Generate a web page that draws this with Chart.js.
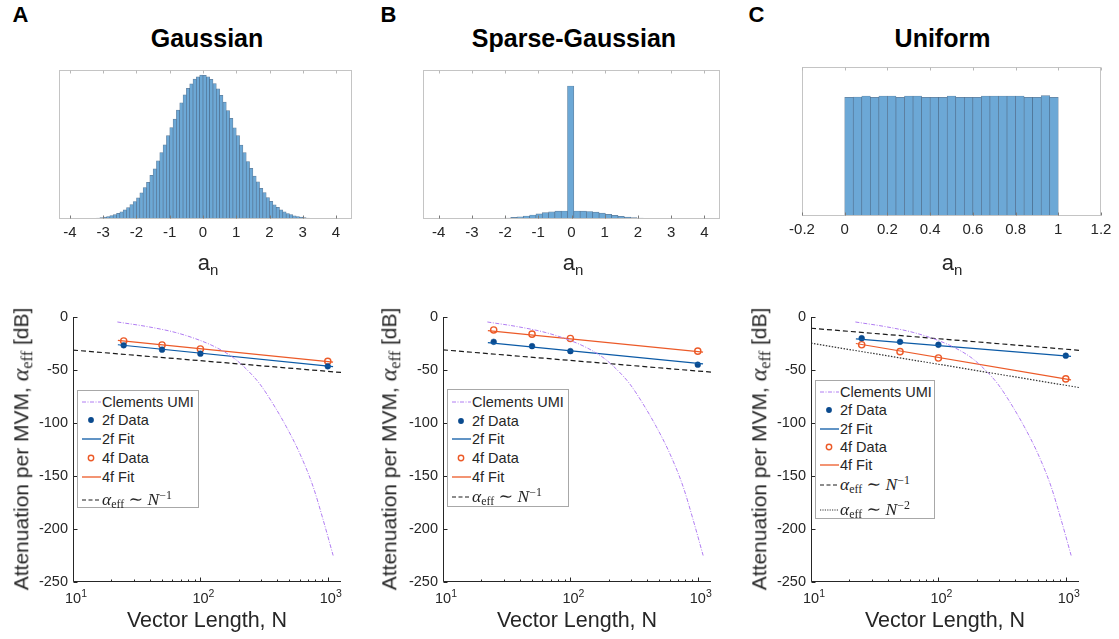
<!DOCTYPE html>
<html><head><meta charset="utf-8">
<script src="https://cdn.jsdelivr.net/npm/chart.js@4"></script>
<style>
html,body{margin:0;padding:0;background:#fff;}
body{width:1119px;height:639px;position:relative;overflow:hidden;font-family:"Liberation Sans",Arial,sans-serif;color:#262626;}
canvas{position:absolute;}
.t{position:absolute;white-space:nowrap;transform:translate(-50%,-50%);line-height:1;}
.title{font-weight:bold;font-size:25px;color:#000;}
.letter{font-weight:bold;font-size:22px;color:#000;}
.an{font-size:22px;color:#262626;}
.an sub{font-size:15px;vertical-align:-5px;}
.xl{font-size:21.5px;}
.yl{font-size:21px;transform:translate(-50%,-50%) rotate(-90deg);}
.yl .m{font-size:24px;}
.lt{font-size:14.5px;}
.lt sup{font-size:10.5px;vertical-align:6px;}
.m{font-family:"Liberation Serif","DejaVu Serif",serif;}
.m i{font-style:italic;}
.m sub{font-size:0.68em;vertical-align:-0.25em;font-style:normal;}
.m sup{font-size:0.68em;vertical-align:0.5em;}
.legend{position:absolute;border:1px solid #a8a8a8;background:#fff;font-size:14.5px;box-sizing:border-box;}
.row{position:absolute;left:0;height:20px;width:100%;}
.row svg{position:absolute;left:1px;top:0;}
.row span{position:absolute;left:24px;top:50%;transform:translateY(-50%);white-space:nowrap;line-height:1;}
.row span.m{font-size:17.5px;}
</style>
</head><body>
<canvas id="h1"></canvas><canvas id="h2"></canvas><canvas id="h3"></canvas>
<canvas id="a1"></canvas><canvas id="a2"></canvas><canvas id="a3"></canvas>
<script>
// ---------------- data ----------------
const histTitles = ['Gaussian', 'Sparse-Gaussian', 'Uniform'];
const panelLetters = ['A', 'B', 'C'];

// Gaussian histogram (bin start, width, bar heights)
const gaussBinStart = -4.3, gaussBinWidth = 0.1;
const gaussCounts = [0.02,0.03,0.04,0.06,0.09,0.13,0.18,0.26,0.37,0.53,0.73,1.0,1.4,1.9,2.5,3.3,4.3,5.6,7.2,9.1,11.4,14.4,17.5,21.1,26.2,31.5,36.7,43.6,50.1,58.2,66.3,74.1,83.3,91.4,99.9,108.9,116.2,124.1,130.6,135.1,139.8,142.1,143.9,
 143.6,142.2,139.6,135.3,130.2,123.6,116.8,108.3,100.7,91.2,83.3,73.8,66.3,57.5,50.6,42.8,37.2,30.7,26.3,21.4,17.7,14.2,11.6,9.1,7.2,5.5,4.4,3.2,2.5,1.8,1.4,1.0,0.7,0.5,0.37,0.26,0.18,0.12,0.09,0.06,0.04,0.03,0.02,0.01,0.01];
const gaussTicks = [-4,-3,-2,-1,0,1,2,3,4];

// Sparse-Gaussian histogram
const sparseBinStart = -4.49, sparseBinWidth = 0.19;
const sparseCounts = [0,0,0,0,0,0.01,0.02,0.04,0.08,0.15,0.25,0.4,0.7,1.0,1.6,2.2,3.0,4.0,5.1,6.3,7.2,7.8,8.0,
 133,
 8.0,7.9,7.5,6.8,5.9,4.7,3.6,2.7,1.9,1.3,0.9,0.55,0.3,0.18,0.1,0.05,0.02,0.01,0,0,0,0,0];
const sparseTicks = [-4,-3,-2,-1,0,1,2,3,4];

// Uniform histogram
const unifBinStart = 0, unifBinWidth = 0.04;
const unifCounts = [118.7,119.0,120.0,118.7,120.0,120.0,118.7,120.0,120.0,118.7,118.7,118.7,120.0,118.7,118.7,118.7,120.0,120.0,120.0,120.0,120.0,118.7,118.7,120.3,118.7];
const unifTicks = [-0.2,0,0.2,0.4,0.6,0.8,1,1.2];

// Attenuation panels
const vecN = [25, 50, 100, 1000];
const fitN = [22.5, 1100];
const refN = [10, 1270];
const logTickVals = [10, 100, 1000];
const logTickExp = ['1', '2', '3'];

const clementsN  = [22.3, 39.7, 64.2, 98, 133, 180, 229, 292, 371, 473, 602, 766, 918, 1102];
const clementsDB = [-4.7, -9.4, -14.7, -21.8, -28.7, -38.1, -49, -63, -81.8, -103.6, -128.6, -159.8, -191, -225];

const gauss2f = [-26.7, -30.8, -34.6, -46.5];
const gauss4f = [-22.6, -26.4, -30.2, -41.8];
const gauss2fFit = [-26.2, -46.9];
const gauss4fFit = [-22.0, -42.5];
const gaussRef1 = [-31.2, -52.3];

const sparse2f = [-23.4, -27.5, -32.2, -45.0];
const sparse4f = [-12.2, -16.2, -20.3, -32.2];
const sparse2fFit = [-24.2, -44.3];
const sparse4fFit = [-12.8, -33.1];
const sparseRef1 = [-31.0, -52.0];

const unif2f = [-20.0, -23.4, -26.2, -36.5];
const unif4f = [-26.2, -32.7, -38.7, -58.4];
const unif2fFit = [-20.6, -37.1];
const unif4fFit = [-25.0, -59.4];
const unifRef1 = [-10.6, -31.4];
const unifRef2 = [-24.7, -66.5];

// ---------------- styles ----------------
const FONT = "'Liberation Sans', Arial, sans-serif";
Chart.defaults.font.family = FONT;
Chart.defaults.color = '#262626';
const C_PURPLE = '#b07cf2', C_BLUE = '#0b5aa6', C_BLUE_PT = '#0a4a8e', C_ORANGE = '#ec5a28', C_BAR = 'rgb(108,168,214)';

const decor = {
  id: 'decor',
  afterDatasetsDraw(chart, args, opts) {
    const ctx = chart.ctx, a = chart.chartArea, xs = chart.scales.x, ys = chart.scales.y;
    ctx.save();
    ctx.lineWidth = 1;
    if (opts.mode === 'hist') {
      const L = Math.round(a.left) + 0.5, R = Math.round(a.right) - 0.5, T = Math.round(a.top) + 0.5, B = Math.round(a.bottom) - 0.5;
      ctx.strokeStyle = '#c4c4c4';
      ctx.strokeRect(L, T, R - L, B - T);
      xs.ticks.forEach(t => {
        const x = Math.round(xs.getPixelForValue(t.value)) + 0.5;
        ctx.strokeStyle = '#b8b8b8';
        ctx.beginPath(); ctx.moveTo(x, T); ctx.lineTo(x, T + 3); ctx.stroke();
        ctx.strokeStyle = '#7a7a7a';
        ctx.beginPath(); ctx.moveTo(x, B); ctx.lineTo(x, B - 3); ctx.stroke();
      });
    } else {
      const L = Math.round(a.left) + 0.5, R = Math.round(a.right), T = Math.round(a.top), B = Math.round(a.bottom) - 0.5;
      ctx.strokeStyle = '#262626';
      ctx.beginPath(); ctx.moveTo(L, T); ctx.lineTo(L, B); ctx.lineTo(R, B); ctx.stroke();
      ys.ticks.forEach(t => {
        const y = Math.round(ys.getPixelForValue(t.value)) + 0.5;
        ctx.beginPath(); ctx.moveTo(L, y); ctx.lineTo(L + 4, y); ctx.stroke();
      });
      logTickVals.forEach(d => {
        const x = Math.round(xs.getPixelForValue(d)) + 0.5;
        ctx.beginPath(); ctx.moveTo(x, B); ctx.lineTo(x, B - 4); ctx.stroke();
        for (let m = 2; m <= 9; m++) {
          const v = d * m;
          if (v > xs.max) break;
          const xm = Math.round(xs.getPixelForValue(v)) + 0.5;
          ctx.beginPath(); ctx.moveTo(xm, B); ctx.lineTo(xm, B - 2); ctx.stroke();
        }
      });
    }
    ctx.restore();
  }
};

function place(cv, b) {
  cv.width = b.cw; cv.height = b.ch;
  cv.style.left = b.cx + 'px'; cv.style.top = b.cy + 'px';
  cv.style.width = b.cw + 'px'; cv.style.height = b.ch + 'px';
}

function histChart(id, b, start, width, counts, xmin, xmax, ticks) {
  const cv = document.getElementById(id); place(cv, b);
  const pts = counts.map((c, i) => ({x: start + width * (i + 0.5), y: c}));
  return new Chart(cv, {
    type: 'bar',
    data: {datasets: [{data: pts, backgroundColor: C_BAR, borderColor: 'rgba(45,85,125,0.75)', borderWidth: 0.7,
      barPercentage: 1, categoryPercentage: 1, grouped: false, borderSkipped: false}]},
    plugins: [decor],
    options: {
      responsive: false, animation: false, devicePixelRatio: 1,
      layout: {padding: {left: b.L - b.cx, top: b.T - b.cy, right: b.cx + b.cw - b.R, bottom: 0}},
      plugins: {legend: {display: false}, tooltip: {enabled: false}, decor: {mode: 'hist'}},
      scales: {
        x: {type: 'linear', min: xmin, max: xmax, offset: false,
          afterBuildTicks: s => { s.ticks = ticks.map(v => ({value: v})); },
          afterFit: s => { s.height = b.cy + b.ch - b.B; s.paddingLeft = 0; s.paddingRight = 0; },
          grid: {display: false, drawTicks: false}, border: {display: false},
          ticks: {autoSkip: false, maxRotation: 0, padding: 5, font: {size: 15}, color: '#262626',
            callback: v => String(Math.round(v * 10) / 10)}},
        y: {display: false, min: 0, max: 149}
      }
    }
  });
}

function lineDS(xs, ys, color, extra) {
  return Object.assign({data: xs.map((x, i) => ({x, y: ys[i]})), showLine: true, pointRadius: 0, borderColor: color,
    borderWidth: 1.2, backgroundColor: color, fill: false}, extra || {});
}

function addText(html, cls, x, y) {
  const d = document.createElement('div'); d.className = 't ' + cls; d.innerHTML = html;
  d.style.left = x + 'px'; d.style.top = y + 'px'; document.body.appendChild(d); return d;
}

function attChart(id, b, d2, d4, f2, f4, refs) {
  const cv = document.getElementById(id); place(cv, b);
  const ds = [
    lineDS(clementsN, clementsDB, C_PURPLE, {borderWidth: 1, borderDash: [4, 1.5, 1, 1.5], cubicInterpolationMode: 'monotone'}),
  ];
  refs.forEach(r => ds.push(lineDS(refN, r.v, r.c, {borderWidth: 1.2, borderDash: r.dash})));
  ds.push(lineDS(fitN, f2, C_BLUE, {borderWidth: 1.2}));
  ds.push(lineDS(fitN, f4, C_ORANGE, {borderWidth: 1.2}));
  ds.push({data: vecN.map((x, i) => ({x, y: d2[i]})), showLine: false, pointRadius: 2.9, pointBackgroundColor: C_BLUE_PT, pointBorderColor: C_BLUE_PT, pointBorderWidth: 0.5});
  ds.push({data: vecN.map((x, i) => ({x, y: d4[i]})), showLine: false, pointRadius: 3.1, pointBackgroundColor: 'rgba(255,255,255,0.9)', pointBorderColor: C_ORANGE, pointBorderWidth: 1.4});
  const ch = new Chart(cv, {
    type: 'scatter',
    data: {datasets: ds},
    plugins: [decor],
    options: {
      responsive: false, animation: false, devicePixelRatio: 1,
      layout: {padding: {left: 0, top: b.T - b.cy, right: b.cx + b.cw - b.R, bottom: 0}},
      plugins: {legend: {display: false}, tooltip: {enabled: false}, decor: {mode: 'att'}},
      scales: {
        x: {type: 'logarithmic', min: 10, max: 1270,
          afterBuildTicks: s => { s.ticks = logTickVals.map(v => ({value: v, major: true})); },
          afterFit: s => { s.height = b.cy + b.ch - b.B; s.paddingLeft = 0; s.paddingRight = 0; },
          grid: {display: false, drawTicks: false}, border: {display: false},
          ticks: {autoSkip: false, maxRotation: 0, padding: 5, font: {size: 14.5}, color: '#262626',
            callback: () => ''}},
        y: {type: 'linear', min: -250, max: 0,
          afterFit: s => { s.width = b.L - b.cx; s.paddingTop = 0; s.paddingBottom = 0; },
          grid: {display: false, drawTicks: false}, border: {display: false},
          ticks: {stepSize: 50, padding: 5, font: {size: 14.5}, color: '#262626'}}
      }
    }
  });
  // log tick labels with real superscripts, positioned from the scale
  logTickVals.forEach((v, i) => {
    const x = b.cx + ch.scales.x.getPixelForValue(v) + 3;
    addText('10<sup>' + logTickExp[i] + '</sup>', 'lt', x, b.B + 15);
  });
  return ch;
}

// ---------------- charts ----------------
histChart('h1', {cx: 40, cy: 55, cw: 330, ch: 200, L: 59, T: 70, R: 352, B: 219}, gaussBinStart, gaussBinWidth, gaussCounts, -4.33, 4.48, gaussTicks);
histChart('h2', {cx: 405, cy: 55, cw: 335, ch: 200, L: 423, T: 70, R: 720, B: 219}, sparseBinStart, sparseBinWidth, sparseCounts, -4.47, 4.47, sparseTicks);
histChart('h3', {cx: 775, cy: 52, cw: 344, ch: 200, L: 802, T: 67, R: 1101, B: 216}, unifBinStart, unifBinWidth, unifCounts, -0.2, 1.2, unifTicks);

const dashRef = [5, 3], dotRef = [1.5, 1.5];
attChart('a1', {cx: 20, cy: 300, cw: 345, ch: 310, L: 73, T: 317, R: 341, B: 582}, gauss2f, gauss4f, gauss2fFit, gauss4fFit,
  [{v: gaussRef1, c: '#1a1a1a', dash: dashRef}]);
attChart('a2', {cx: 390, cy: 300, cw: 345, ch: 310, L: 443, T: 317, R: 711, B: 582}, sparse2f, sparse4f, sparse2fFit, sparse4fFit,
  [{v: sparseRef1, c: '#1a1a1a', dash: dashRef}]);
attChart('a3', {cx: 758, cy: 300, cw: 345, ch: 310, L: 811, T: 317, R: 1079, B: 582}, unif2f, unif4f, unif2fFit, unif4fFit,
  [{v: unifRef1, c: '#1a1a1a', dash: dashRef}, {v: unifRef2, c: '#333', dash: dotRef}]);

// ---------------- text ----------------
const letterX = [20.5, 388.5, 756.5];
const titleX = [207, 574, 942.5];
const anX = [208, 573, 952];
const xlX = [207, 577, 945];
const ylX = [21.5, 390, 760];
for (let i = 0; i < 3; i++) {
  addText(panelLetters[i], 'letter', letterX[i], 15);
  addText(histTitles[i], 'title', titleX[i], 38);
  addText('a<sub>n</sub>', 'an', anX[i], 264);
  addText('Vector Length, N', 'xl', xlX[i], 621);
  addText('Attenuation per MVM, <span class="m"><i>α</i><sub>eff</sub></span> [dB]', 'yl', ylX[i], 449);
}

// ---------------- legends ----------------
const SAMPLE = {
  clem: `<line x1="3" y1="10" x2="22" y2="10" stroke="${C_PURPLE}" stroke-width="1" stroke-dasharray="4 1.5 1 1.5"/>`,
  d2: `<circle cx="12" cy="10" r="2.9" fill="${C_BLUE_PT}"/>`,
  f2: `<line x1="3" y1="10" x2="22" y2="10" stroke="${C_BLUE}" stroke-width="1.3"/>`,
  d4: `<circle cx="12" cy="10" r="2.7" fill="#fff" stroke="${C_ORANGE}" stroke-width="1.4"/>`,
  f4: `<line x1="3" y1="10" x2="22" y2="10" stroke="${C_ORANGE}" stroke-width="1.3"/>`,
  r1: `<line x1="3" y1="10" x2="22" y2="10" stroke="#1a1a1a" stroke-width="1.2" stroke-dasharray="4 2.5"/>`,
  r2: `<line x1="3" y1="10" x2="22" y2="10" stroke="#333" stroke-width="1.2" stroke-dasharray="1.2 1.2"/>`
};
const TXT = {
  clem: 'Clements UMI', d2: '2f Data', f2: '2f Fit', d4: '4f Data', f4: '4f Fit',
  r1: '<i>α</i><sub>eff</sub> ∼ <i>N</i><sup>−1</sup>', r2: '<i>α</i><sub>eff</sub> ∼ <i>N</i><sup>−2</sup>'
};
function legend(x, y, w, h, rows) {
  const d = document.createElement('div'); d.className = 'legend';
  d.style.left = x + 'px'; d.style.top = y + 'px'; d.style.width = w + 'px'; d.style.height = h + 'px';
  rows.forEach(([k, cy]) => {
    const r = document.createElement('div'); r.className = 'row'; r.style.top = (cy - 10) + 'px';
    r.innerHTML = `<svg width="24" height="20">${SAMPLE[k]}</svg><span class="${k[0] === 'r' ? 'm' : ''}">${TXT[k]}</span>`;
    d.appendChild(r);
  });
  document.body.appendChild(d);
}
legend(77, 389.5, 122, 118, [['clem', 11], ['d2', 29.5], ['f2', 48], ['d4', 67], ['f4', 86], ['r1', 109]]);
legend(447, 389, 122, 118, [['clem', 11.5], ['d2', 30.5], ['f2', 48.5], ['d4', 67.5], ['f4', 86.5], ['r1', 107]]);
legend(815, 380, 120, 139, [['clem', 10.5], ['d2', 29], ['f2', 47.5], ['d4', 65.5], ['f4', 84], ['r1', 103.5], ['r2', 129]]);
</script>
</body></html>
